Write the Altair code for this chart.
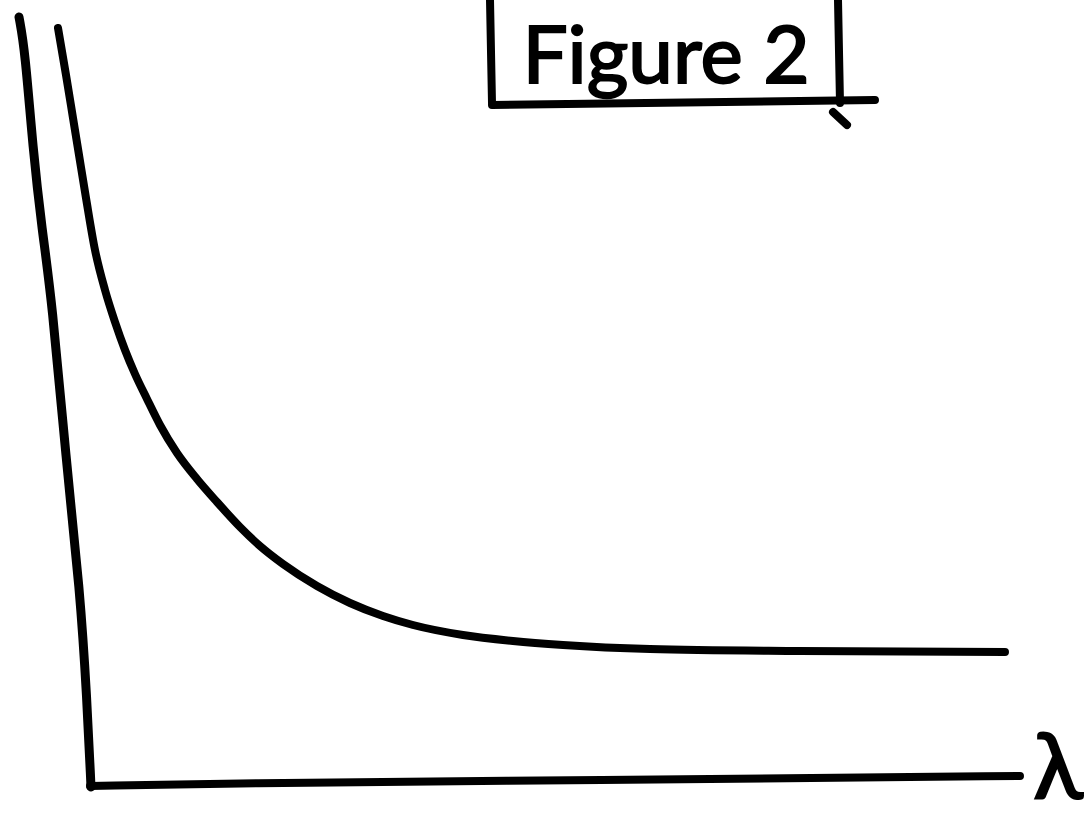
import altair as alt
import pandas as pd

# Sketch coordinates: x runs left to right, y runs bottom to top (0..819)
W, H = 1089, 819

# Decaying curve, sketch units
curve_x = [58, 66, 73, 79, 86, 95, 105, 115, 125, 135, 147, 160, 177, 197, 217,
           240, 260, 283, 317, 350, 383, 413, 463, 513, 563, 650, 800, 1005]
curve_y = [791, 744, 701, 664, 621, 569, 529, 497, 469, 445, 420, 394, 366, 340,
           317, 292, 273, 255, 233, 216, 203, 194, 184, 178, 174, 170, 168, 167]

# Hand-drawn vertical axis
vaxis_x = [19, 25, 33, 42, 52, 66, 80, 87, 91]
vaxis_y = [802, 769, 669, 589, 519, 359, 229, 119, 32]

# Hand-drawn horizontal axis
haxis_x = [90, 240, 500, 800, 1020]
haxis_y = [33, 36, 38, 41, 43]

# Box around the figure label (three strokes plus a small hook)
box_x = [490, 492, 492, 875, 838, 840, 833, 847]
box_y = [819, 716, 714, 719, 819, 716, 707, 694]
box_stroke = [0, 0, 1, 1, 2, 2, 3, 3]

label_text = ["Figure 2", "λ"]
label_x = [666, 1058]
label_y = [736, 21]
label_size = [80, 92]

xs = alt.Scale(domain=[0, W])
ys = alt.Scale(domain=[0, H])


def path(xv, yv, width, group=None, interp="monotone"):
    df = pd.DataFrame({"x": xv, "y": yv, "o": range(len(xv))})
    enc = dict(
        x=alt.X("x:Q", scale=xs, axis=None),
        y=alt.Y("y:Q", scale=ys, axis=None),
        order="o:Q",
    )
    if group is not None:
        df["g"] = group
        enc["detail"] = "g:N"
    return alt.Chart(df).mark_line(
        color="black", strokeWidth=width, strokeCap="round",
        strokeJoin="round", interpolate=interp, clip=False,
    ).encode(**enc)


curve = path(curve_x, curve_y, 8)
vaxis = path(vaxis_x, vaxis_y, 9, interp="basis")
haxis = path(haxis_x, haxis_y, 8, interp="basis")
box = path(box_x, box_y, 8, box_stroke, interp="linear")

labels_df = pd.DataFrame({"t": label_text, "x": label_x, "y": label_y, "s": label_size})
labels = alt.Chart(labels_df).mark_text(
    color="black", stroke="black", strokeWidth=2,
    font="Lato", baseline="alphabetic", align="center",
).encode(
    x=alt.X("x:Q", scale=xs, axis=None),
    y=alt.Y("y:Q", scale=ys, axis=None),
    text="t:N",
    size=alt.Size("s:Q", scale=None, legend=None),
)

chart = alt.layer(vaxis, haxis, curve, box, labels).properties(
    width=W, height=H, padding=0, autosize="none", background="white",
).configure_view(stroke=None)

chart.save("out.html", embed_options={"renderer": "svg", "actions": False})
